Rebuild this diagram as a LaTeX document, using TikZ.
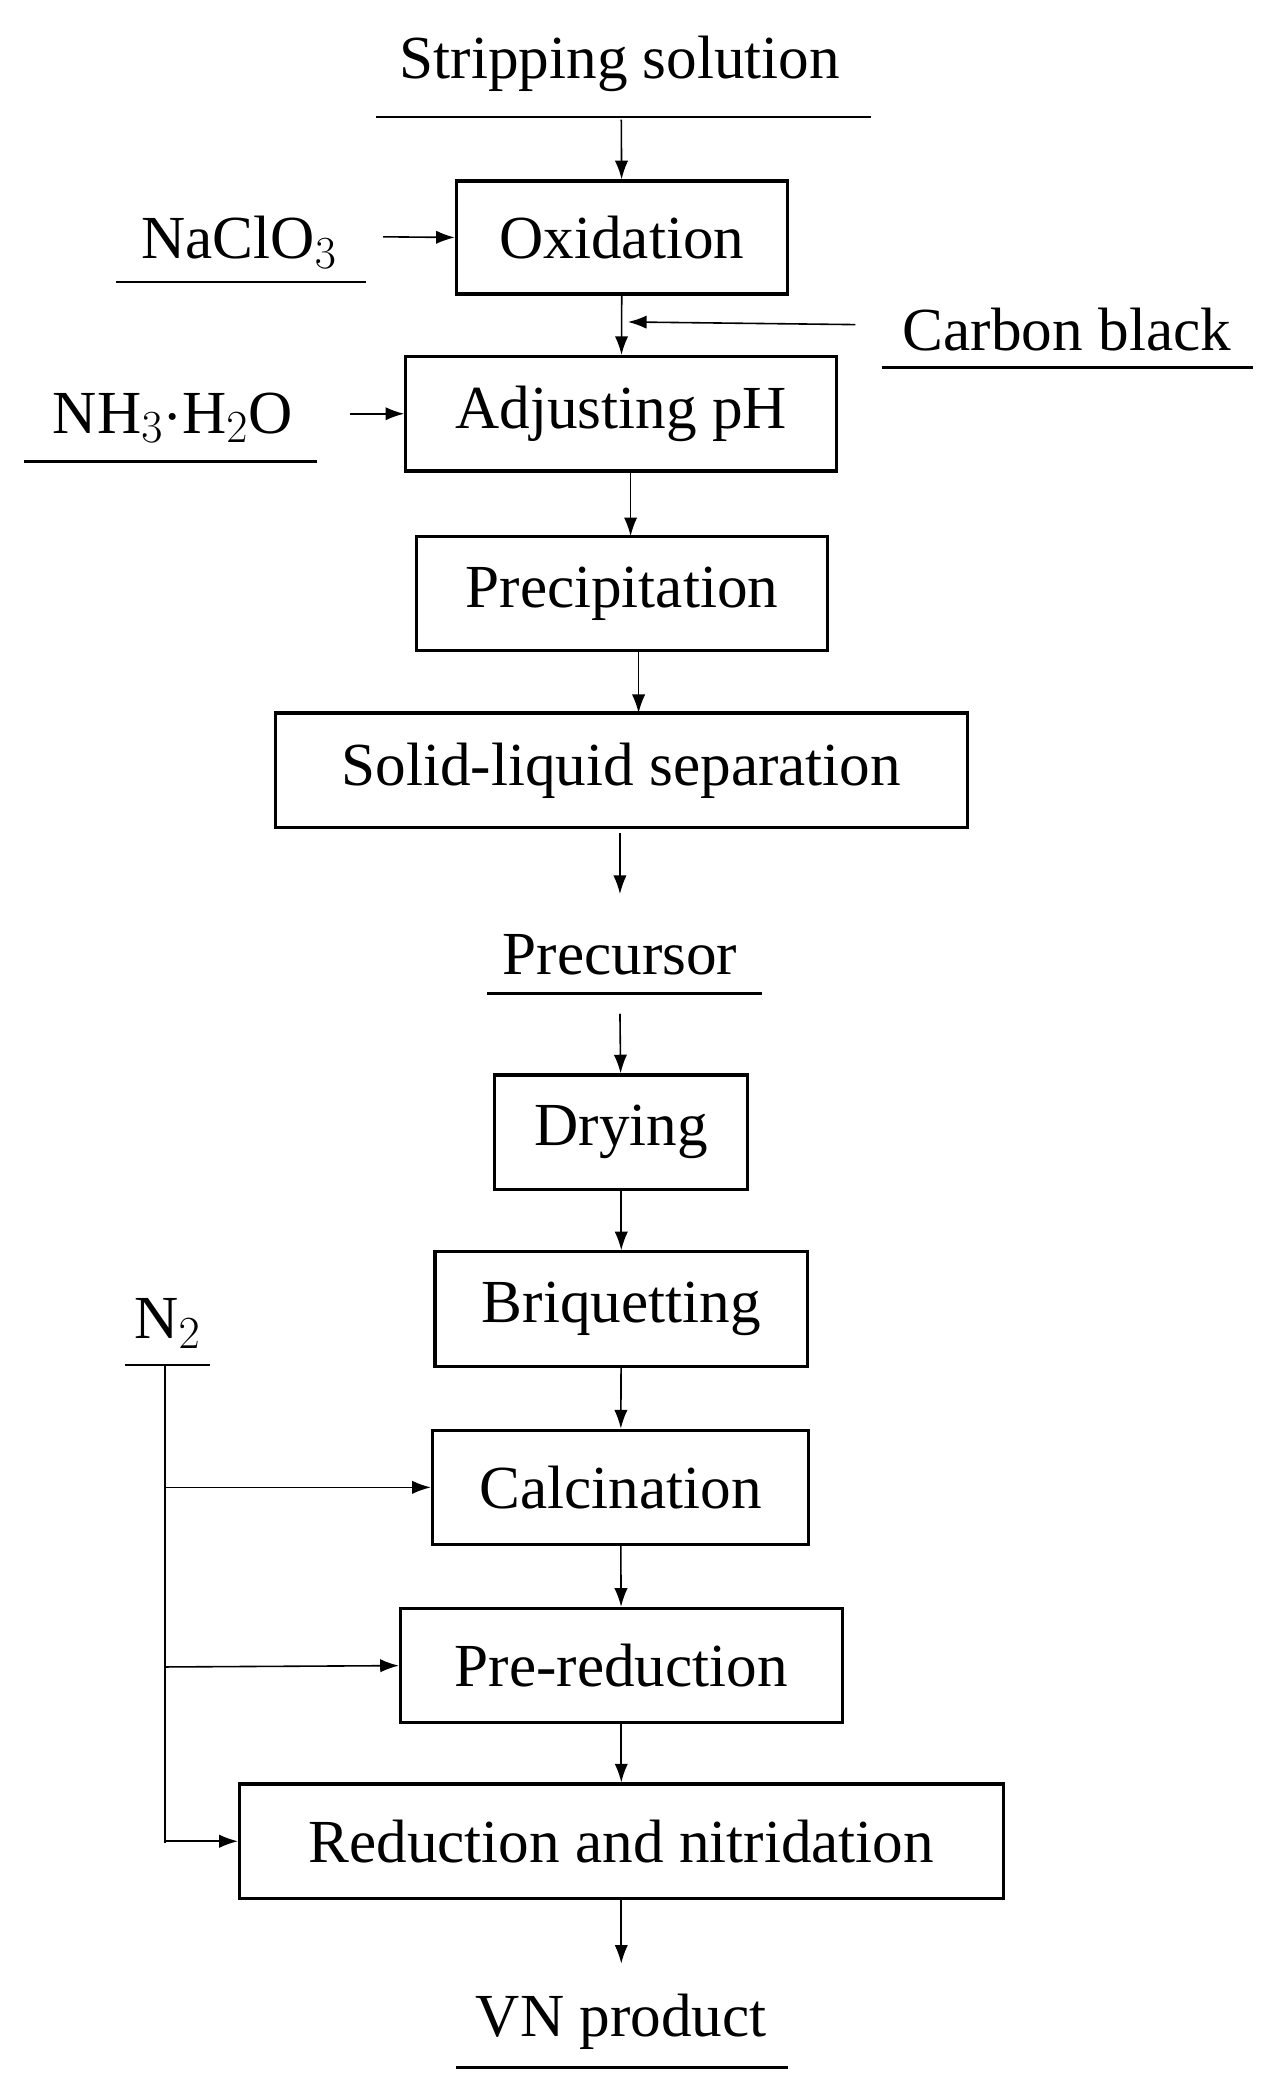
\documentclass[tikz,border=0pt]{standalone}
\usepackage{fontspec}
\setmainfont{Liberation Serif}
\usetikzlibrary{arrows.meta}
\begin{document}
\begin{tikzpicture}[x=0.5pt,y=-0.5pt,
 box/.style={draw,line width=1.2pt,inner sep=0pt},
 lbl/.style={inner sep=0pt,font=\fontsize{23}{28}\selectfont},
 ul/.style={line width=1pt},
 arr/.style={-{Latex[length=7pt,width=5pt]},line width=0.6pt}]
\useasboundingbox (0,0) rectangle (963,1574);
\tikzset{bx/.style={lbl}}
\def\B#1#2#3#4#5#6{\node[box,minimum width=(#3-#2)*0.5pt,minimum height=(#5-#4)*0.5pt] (#1) at ({(#2+#3)/2},{(#4+#5)/2}) {\fontsize{23}{28}\selectfont #6};}
\B{ox}{343}{592}{136}{221}{Oxidation}
\B{ph}{305}{629}{268}{354}{Adjusting pH}
\B{pr}{313}{622}{403}{489}{Precipitation}
\B{sl}{207}{727}{536}{622}{Solid-liquid separation}
\B{dr}{372}{562}{808}{894}{Drying}
\B{bq}{327}{607}{941}{1027}{Briquetting}
\B{ca}{325}{608}{1075}{1161}{Calcination}
\B{pre}{301}{633}{1209}{1295}{Pre-reduction}
\B{rn}{180}{754}{1341}{1427}{Reduction and nitridation}
\node[lbl] (ss) at (466,48) {Stripping solution};
\draw[ul] (283,88) -- (655,88);
\node[lbl] (na) at (180,182) {NaClO$_3$};
\draw[ul] (87,212) -- (275,212);
\node[lbl] (cb) at (802,248) {Carbon black};
\draw[ul] (663,276) -- (942,276);
\node[lbl] (nh) at (130,314) {NH$_3$$\cdot$H$_2$O};
\draw[ul] (18,347) -- (238,347);
\node[lbl] (pc) at (466,718) {Precursor};
\draw[ul] (366,747) -- (573,747);
\node[lbl] (vn) at (467,1520) {VN product};
\draw[ul] (343,1554) -- (592,1554);
\node[lbl] (n2) at (126,995) {N$_2$};
\draw[ul] (94,1026) -- (158,1026);
\coordinate (c1) at (467,90); \coordinate (c2) at (288,178);
\coordinate (c3) at (643,244); \coordinate (c4) at (263,311);
\coordinate (c5) at (466,626); \coordinate (c6) at (466,672);
\coordinate (c7) at (466,762); \coordinate (c8) at (467,1476);
\coordinate (n0) at (124,1026);
\draw[arr] (c1) -- (ox);
\draw[arr] (c2) -- (ox.west);
\draw[arr] (ox) -- (ph);
\draw[arr] (c3) -- (472,242);
\draw[arr] (c4) -- (ph.west);
\draw[arr] (474,354) -- (474,403);
\draw[arr] (480,489) -- (480,536);
\draw[arr] (c5) -- (c6);
\draw[arr] (c7) -- (dr);
\draw[arr] (dr) -- (bq);
\draw[arr] (bq) -- (ca);
\draw[arr] (ca) -- (pre);
\draw[arr] (pre) -- (rn);
\draw[arr] (rn) -- (c8);
\draw[line width=0.6pt] (n0) -- (124,1385);
\draw[arr] (124,1118) -- (ca.west);
\draw[arr] (124,1253) -- (pre.west);
\draw[arr] (124,1384) -- (rn.west);
\end{tikzpicture}
\end{document}
